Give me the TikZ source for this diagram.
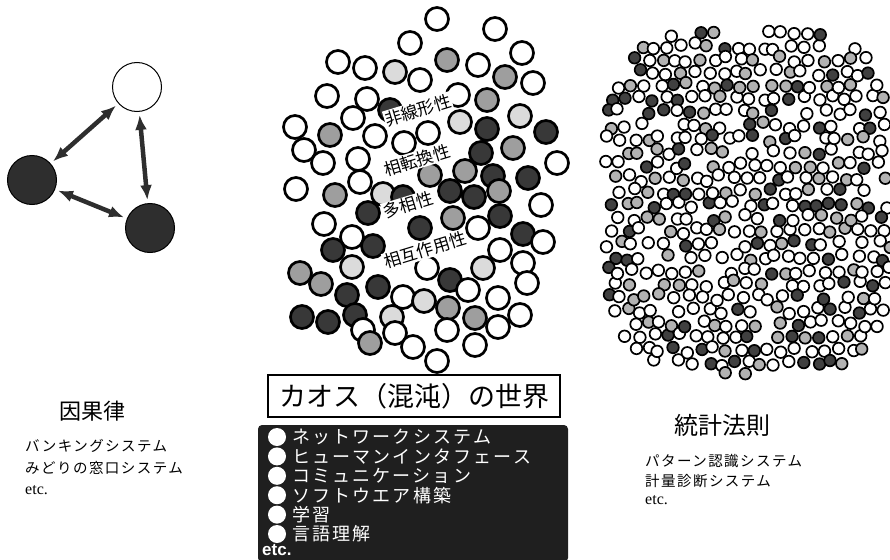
\documentclass[tikz,border=0pt]{standalone}
\usepackage{fontspec}
\setmainfont{Liberation Serif}
\setsansfont{Liberation Sans}
\newfontfamily\jp{Noto Sans CJK JP}
\newfontfamily\jpw[LetterSpace=10]{Noto Sans CJK JP}
\newfontfamily\jpb[LetterSpace=12]{Noto Sans CJK JP}
\usetikzlibrary{arrows.meta}
\tikzset{
  mc/.style={draw=black, line width=2.7pt},
  mw/.style={mc, fill=white},
  ml/.style={mc, fill=black!14},
  mg/.style={mc, fill=black!38},
  md/.style={mc, fill=black!78},
  sc/.style={draw=black, line width=1.7pt},
  sw/.style={sc, fill=white},
  sg/.style={sc, fill=black!30},
  sd/.style={sc, fill=black!75},
  bigc/.style={circle, draw=black, line width=1pt, minimum size=49, inner sep=0pt},
  dbl/.style={line width=4.5pt, draw=black!82, {Latex[length=15pt,width=12pt]}-{Latex[length=15pt,width=12pt]}, shorten <=3pt, shorten >=3pt},
  prop/.style={font=\jp\fontsize{17}{17}\selectfont, fill=white, inner sep=1pt, rotate=17},
  title/.style={font=\jp\fontsize{22}{22}\selectfont},
  item/.style={font=\jpw\fontsize{14.5}{14.5}\selectfont, anchor=west, inner sep=0pt},
  etc/.style={font=\fontsize{16}{16}\selectfont, anchor=west, inner sep=0pt},
  bitem/.style={font=\jpb\fontsize{18}{18}\selectfont, text=white, anchor=west, inner sep=0pt},
  bullet/.style={circle, fill=white, minimum size=18, inner sep=0pt}
}
\begin{document}
\begin{tikzpicture}[x=1pt,y=-1pt]
\useasboundingbox (0,0) rectangle (890,559);

% ---------- left: causality ----------
\node[bigc, fill=white] (cw) at (137,87) {};
\node[bigc, fill=black!82] (cl) at (32,180) {};
\node[bigc, fill=black!82] (cb) at (150,228) {};
\draw[dbl] (cw) -- (cl);
\draw[dbl] (cw) -- (cb);
\draw[dbl] (cl) -- (cb);

\node[title] (t1) at (92,411) {因果律};
\node[item] (l1a) at (25,446) {バンキングシステム};
\node[item] (l1b) at (25,468) {みどりの窓口システム};
\node[etc] (l1c) at (25,490) {etc.};

% ---------- middle: chaos ----------
\foreach \x/\y/\t in {
 437/19/w, 495/29/w, 410/43/w, 522/53/w, 338/62/w, 365/68/w, 395/72/l, 447/60/g,
 478/65/w, 505/77/g, 533/83/w, 420/80/w, 327/96/w, 367/99/w, 390/110/d, 458/95/w,
 487/100/g, 520/116/l, 460/122/l, 487/129/d, 546/132/d, 295/127/w, 330/135/g,
 353/118/w, 375/136/w, 404/143/w, 428/133/w, 304/150/w, 323/163/w, 358/159/w,
 481/153/d, 513/148/g, 557/163/w, 465/171/g, 493/176/d, 528/178/d, 430/175/g,
 450/191/d, 474/197/d, 499/191/g, 296/189/w, 335/195/g, 360/182/w, 383/194/l,
 403/197/d, 368/213/d, 453/218/g, 500/216/d, 420/228/d, 541/205/w, 324/224/w,
 352/237/w, 478/228/w, 523/234/d, 543/242/w, 333/250/d, 373/246/d, 300/273/g,
 321/284/g, 352/267/l, 427/268/w, 500/250/w, 523/263/w, 483/268/l, 450/280/d,
 468/290/w, 527/283/w, 347/295/d, 378/287/d, 403/297/w, 424/301/l, 498/298/w,
 448/308/g, 475/318/g, 520/315/w, 302/317/d, 328/322/d, 355/315/d, 392/317/l,
 498/327/w, 447/330/w, 363/330/w, 395/333/w, 370/343/g, 413/347/w, 475/345/w,
 437/361/w}
 \draw[m\t] (\x,\y) circle[radius=11.5];

\node[prop] (p1) at (418,110) {非線形性};
\node[prop] (p2) at (417,160) {相転換性};
\node[prop] (p3) at (408,205) {多相性};
\node[prop] (p4) at (425,250) {相互作用性};

\node[draw=black, line width=1.6pt, minimum width=292, minimum height=42, inner sep=0pt,
      font=\jp\fontsize{27}{27}\selectfont] (chaos) at (414,396) {カオス（混沌）の世界};

\fill[black!88, rounded corners=4pt] (258,425) rectangle (568,562);
\foreach \k/\s [count=\n] in {0/ネットワークシステム, 1/ヒューマンインタフェース, 2/コミュニケーション,
   3/ソフトウエア構築, 4/学習, 5/言語理解} {
  \node[bullet] (b\n) at (277,{437+\k*19.4}) {};
  \node[bitem] (i\n) at (292,{437+\k*19.4}) {\s};
}
\node[etc, text=white, font=\sffamily\bfseries\fontsize{17}{17}\selectfont] (betc) at (262,550) {etc.};

% ---------- right: statistics ----------
\pgfmathsetseed{4242}
\foreach \i in {0,...,21}{
  \foreach \j in {0,...,26}{
    \pgfmathsetmacro\cx{606+\i*13.6+mod(\j,2)*6.8+(rnd-0.5)*7}
    \pgfmathsetmacro\cy{33+\j*13.2+(rnd-0.5)*7}
    \pgfmathsetmacro\ax{(\cx-748)/143}
    \pgfmathsetmacro\ay{(\cy-203)/172}
    \pgfmathsetmacro\inr{(\ax)*(\ax)*(\ax)*(\ax)+(\ay)*(\ay)*(\ay)*(\ay)}
    \pgfmathsetmacro\kind{rnd}
    \pgfmathsetmacro\skp{rnd}
    \ifdim\inr pt<1pt
      \ifdim\skp pt>0.08pt
        \ifdim\kind pt<0.15pt
          \draw[sd] (\cx,\cy) circle[radius=5.8];
        \else\ifdim\kind pt<0.34pt
          \draw[sg] (\cx,\cy) circle[radius=5.8];
        \else
          \draw[sw] (\cx,\cy) circle[radius=5.8];
        \fi\fi
      \fi
    \fi
  }
}

\node[title, font=\jp\fontsize{24}{24}\selectfont] (t3) at (722,425) {統計法則};
\node[item] (r1a) at (645,461) {パターン認識システム};
\node[item] (r1b) at (645,481) {計量診断システム};
\node[etc] (r1c) at (645,500) {etc.};
\end{tikzpicture}
\end{document}
